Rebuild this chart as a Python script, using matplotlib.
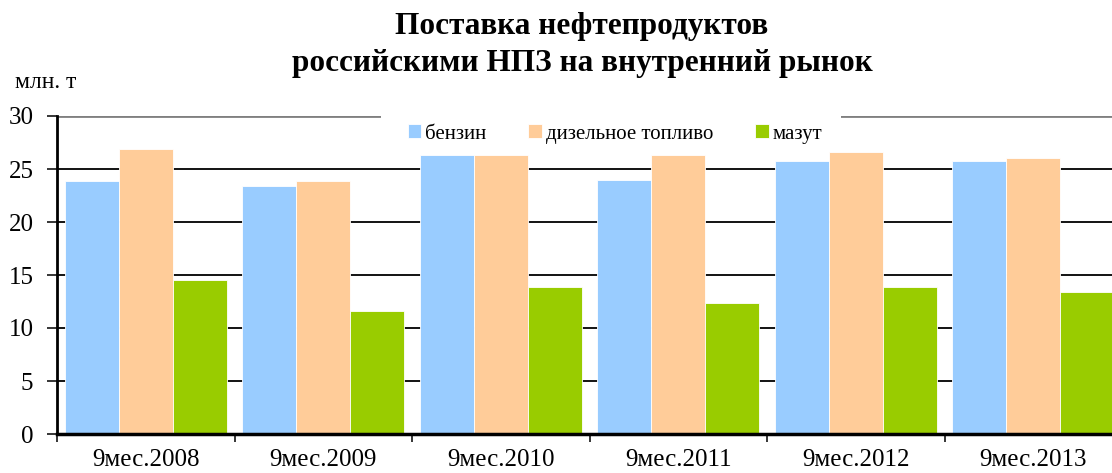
import numpy as np
import matplotlib.pyplot as plt
from matplotlib.patches import Rectangle

plt.rcParams["font.family"] = ["Liberation Serif", "DejaVu Serif"]

# данные (млн. т)
categories = ["9мес.2008", "9мес.2009", "9мес.2010",
              "9мес.2011", "9мес.2012", "9мес.2013"]
benzin = [23.9, 23.4, 26.3, 24.0, 25.8, 25.8]
diesel = [26.9, 23.9, 26.3, 26.3, 26.6, 26.0]
mazut = [14.5, 11.6, 13.9, 12.4, 13.9, 13.4]
series_names = ["бензин", "дизельное топливо", "мазут"]
colors = ["#99CCFF", "#FFCC99", "#99CC00"]

W, H = 1112, 473
fig = plt.figure(figsize=(W / 100, H / 100), dpi=100)
ax = fig.add_axes([57 / W, 39 / H, 1065 / W, 318 / H])

x = np.arange(len(categories))
w = 0.305
for k, (vals, name, col) in enumerate(zip([benzin, diesel, mazut],
                                          series_names, colors)):
    ax.bar(x + (k - 1) * w, vals, w, color=col, edgecolor="white",
           linewidth=0.6, label=name, zorder=3)

ax.set_xlim(-0.5, len(categories) - 0.5)
ax.set_ylim(0, 30)
ax.set_yticks(range(0, 31, 5))
ax.set_axisbelow(True)
ax.yaxis.grid(True, color="black", linewidth=1.3)
ax.get_ygridlines()[-1].set_color("#808080")
ax.get_ygridlines()[-1].set_linewidth(2)

for s in ["top", "right"]:
    ax.spines[s].set_visible(False)
ax.spines["left"].set_linewidth(2)
ax.spines["bottom"].set_linewidth(2.5)
ax.spines["left"].set_zorder(4)
ax.spines["bottom"].set_zorder(4)

# подписи категорий в центрах, засечки на границах
ax.set_xticks(x)
ax.set_xticklabels(categories)
ax.set_xticks(np.arange(-0.5, len(categories)), minor=True)
ax.tick_params(axis="x", which="major", length=0, labelsize=18, pad=11)
ax.tick_params(axis="x", which="minor", length=6, width=1.1,
               direction="out", color="black")
ax.tick_params(axis="y", length=7, width=1.1, direction="out",
               labelsize=18, pad=10)
ax.yaxis.get_major_ticks()[-1].tick1line.set_color("#808080")

# белая подложка легенды, перекрывающая верхнюю линию сетки
ax.add_patch(Rectangle((381 / W, 1 - 150 / H), 460 / W, 46 / H,
                       transform=fig.transFigure, facecolor="white",
                       edgecolor="none", zorder=1, clip_on=False))
leg = ax.legend(loc="center", bbox_to_anchor=(615 / W, 1 - 134 / H),
                bbox_transform=fig.transFigure, ncol=3, frameon=False,
                fontsize=15, handlelength=0.65, handleheight=0.65,
                handletextpad=0.2, columnspacing=2.0)
leg.set_zorder(2)

fig.text(582 / W, 1 - 34 / H, "Поставка нефтепродуктов",
         ha="center", va="baseline", fontsize=22.5, fontweight="bold")
fig.text(582 / W, 1 - 71 / H, "российскими НПЗ на внутренний рынок",
         ha="center", va="baseline", fontsize=22.5, fontweight="bold")
fig.text(15 / W, 1 - 88 / H, "млн. т", ha="left", va="baseline",
         fontsize=17)

fig.savefig("out.png", dpi=100)
